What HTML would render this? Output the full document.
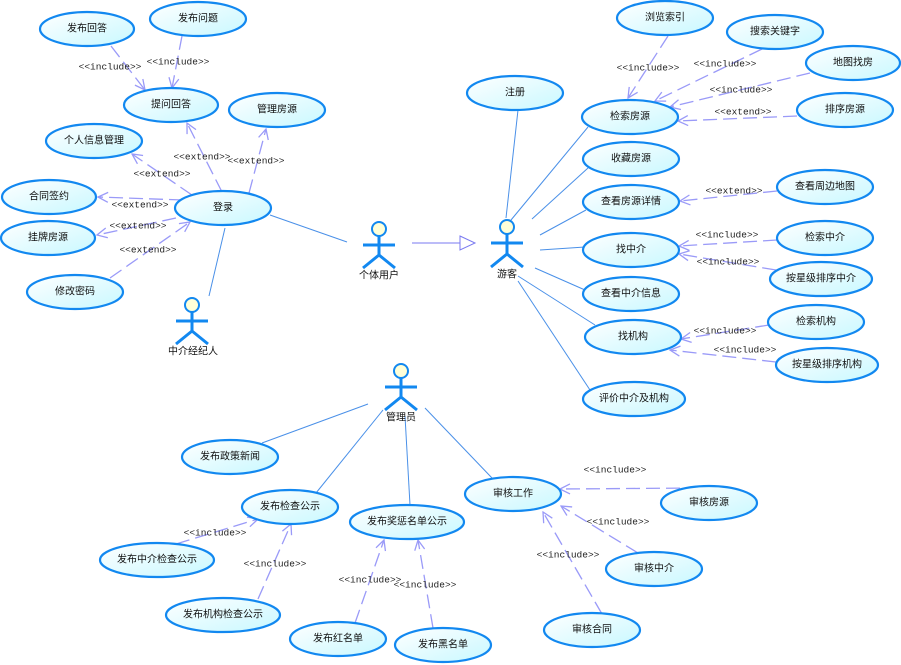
<!DOCTYPE html>
<html><head><meta charset="utf-8"><style>
html,body{margin:0;padding:0;background:#fff;width:901px;height:665px;overflow:hidden}
svg{display:block}
.e{fill:url(#g);stroke:#1288f0;stroke-width:2.2}
.t{font-family:"Liberation Sans","Noto Sans CJK SC",sans-serif;font-size:10px;fill:#111;text-anchor:middle;dominant-baseline:central}
.s{stroke:#4a90e8;stroke-width:1;fill:none}
.d{stroke:#9a9af8;stroke-width:1.3;fill:none;stroke-dasharray:14 6}
.l{font-family:"Liberation Mono",monospace;font-size:9.5px;fill:#222;text-anchor:middle;dominant-baseline:central}
.a{stroke:#1288f0;stroke-width:3;fill:none}
</style></head><body>
<svg width="901" height="665" xmlns="http://www.w3.org/2000/svg">
<defs>
<linearGradient id="g" x1="0" y1="0" x2="1" y2="1"><stop offset="0" stop-color="#ffffff"/><stop offset="1" stop-color="#c8f8ff"/></linearGradient>
<marker id="m" markerWidth="12" markerHeight="12" refX="11" refY="6" orient="auto" markerUnits="userSpaceOnUse"><path d="M1,1 L11,6 L1,11" fill="none" stroke="#9a9af8" stroke-width="1.3"/></marker>
</defs>
<g class="s">
<line x1="270" y1="215" x2="347" y2="242"/>
<line x1="209" y1="296" x2="225" y2="228"/>
<line x1="518" y1="110" x2="506" y2="218"/>
<line x1="588" y1="127" x2="511" y2="220"/>
<line x1="588" y1="168" x2="532" y2="219"/>
<line x1="586" y1="210" x2="540" y2="235"/>
<line x1="585" y1="247" x2="540" y2="250"/>
<line x1="585" y1="290" x2="535" y2="268"/>
<line x1="595" y1="325" x2="518" y2="276"/>
<line x1="590" y1="390" x2="518" y2="281"/>
<line x1="368" y1="404" x2="262" y2="443"/>
<line x1="383" y1="410" x2="316" y2="493"/>
<line x1="405" y1="416" x2="410" y2="505"/>
<line x1="425" y1="408" x2="492" y2="478"/>
<line x1="412" y1="243" x2="460" y2="243" stroke="#7a7af0"/>
</g>
<path d="M460,236 L475,243 L460,250 Z" fill="#fff" stroke="#7a7af0"/>
<g class="d" marker-end="url(#m)">
<line x1="111" y1="46" x2="145" y2="90"/>
<line x1="182" y1="36" x2="172" y2="88"/>
<line x1="222" y1="192" x2="187" y2="123"/>
<line x1="249" y1="193" x2="266" y2="129"/>
<line x1="192" y1="195" x2="132" y2="154"/>
<line x1="183" y1="200" x2="98" y2="197"/>
<line x1="176" y1="218" x2="97" y2="235"/>
<line x1="110" y1="278" x2="190" y2="222"/>
<line x1="668" y1="36" x2="628" y2="98"/>
<line x1="762" y1="49" x2="655" y2="101"/>
<line x1="810" y1="73" x2="670" y2="107"/>
<line x1="797" y1="116" x2="678" y2="121"/>
<line x1="777" y1="191" x2="680" y2="201"/>
<line x1="777" y1="240" x2="679" y2="246"/>
<line x1="776" y1="270" x2="679" y2="254"/>
<line x1="769" y1="325" x2="681" y2="339"/>
<line x1="776" y1="362" x2="670" y2="350"/>
<line x1="700" y1="488" x2="560" y2="489"/>
<line x1="638" y1="553" x2="561" y2="506"/>
<line x1="602" y1="614" x2="543" y2="512"/>
<line x1="176" y1="544" x2="258" y2="519"/>
<line x1="258" y1="599" x2="291" y2="524"/>
<line x1="355" y1="623" x2="384" y2="540"/>
<line x1="433" y1="628" x2="418" y2="540"/>
</g>
<g class="l">
<text x="110" y="67">&lt;&lt;include&gt;&gt;</text>
<text x="178" y="62">&lt;&lt;include&gt;&gt;</text>
<text x="202" y="157">&lt;&lt;extend&gt;&gt;</text>
<text x="256" y="161">&lt;&lt;extend&gt;&gt;</text>
<text x="162" y="174">&lt;&lt;extend&gt;&gt;</text>
<text x="140" y="205">&lt;&lt;extend&gt;&gt;</text>
<text x="138" y="226">&lt;&lt;extend&gt;&gt;</text>
<text x="148" y="250">&lt;&lt;extend&gt;&gt;</text>
<text x="648" y="68">&lt;&lt;include&gt;&gt;</text>
<text x="725" y="64">&lt;&lt;include&gt;&gt;</text>
<text x="741" y="90">&lt;&lt;include&gt;&gt;</text>
<text x="743" y="112">&lt;&lt;extend&gt;&gt;</text>
<text x="734" y="191">&lt;&lt;extend&gt;&gt;</text>
<text x="727" y="235">&lt;&lt;include&gt;&gt;</text>
<text x="728" y="262">&lt;&lt;include&gt;&gt;</text>
<text x="725" y="331">&lt;&lt;include&gt;&gt;</text>
<text x="745" y="350">&lt;&lt;include&gt;&gt;</text>
<text x="615" y="470">&lt;&lt;include&gt;&gt;</text>
<text x="618" y="522">&lt;&lt;include&gt;&gt;</text>
<text x="568" y="555">&lt;&lt;include&gt;&gt;</text>
<text x="215" y="533">&lt;&lt;include&gt;&gt;</text>
<text x="275" y="564">&lt;&lt;include&gt;&gt;</text>
<text x="370" y="580">&lt;&lt;include&gt;&gt;</text>
<text x="425" y="585">&lt;&lt;include&gt;&gt;</text>
</g>
<g>
<ellipse class="e" cx="87" cy="29" rx="47" ry="17"/><text class="t" x="87" y="29">发布回答</text>
<ellipse class="e" cx="198" cy="19" rx="48" ry="17"/><text class="t" x="198" y="19">发布问题</text>
<ellipse class="e" cx="171" cy="105" rx="47" ry="17"/><text class="t" x="171" y="105">提问回答</text>
<ellipse class="e" cx="277" cy="110" rx="48" ry="17"/><text class="t" x="277" y="110">管理房源</text>
<ellipse class="e" cx="94" cy="141" rx="48" ry="17"/><text class="t" x="94" y="141">个人信息管理</text>
<ellipse class="e" cx="49" cy="197" rx="47" ry="17"/><text class="t" x="49" y="197">合同签约</text>
<ellipse class="e" cx="48" cy="238" rx="47" ry="17"/><text class="t" x="48" y="238">挂牌房源</text>
<ellipse class="e" cx="75" cy="292" rx="48" ry="17"/><text class="t" x="75" y="292">修改密码</text>
<ellipse class="e" cx="223" cy="208" rx="48" ry="17"/><text class="t" x="223" y="208">登录</text>
<ellipse class="e" cx="665" cy="18" rx="48" ry="17"/><text class="t" x="665" y="18">浏览索引</text>
<ellipse class="e" cx="775" cy="32" rx="48" ry="17"/><text class="t" x="775" y="32">搜索关键字</text>
<ellipse class="e" cx="853" cy="63" rx="47" ry="17"/><text class="t" x="853" y="63">地图找房</text>
<ellipse class="e" cx="845" cy="110" rx="48" ry="17"/><text class="t" x="845" y="110">排序房源</text>
<ellipse class="e" cx="515" cy="93" rx="48" ry="17"/><text class="t" x="515" y="93">注册</text>
<ellipse class="e" cx="630" cy="117" rx="48" ry="17"/><text class="t" x="630" y="117">检索房源</text>
<ellipse class="e" cx="631" cy="159" rx="48" ry="17"/><text class="t" x="631" y="159">收藏房源</text>
<ellipse class="e" cx="631" cy="202" rx="48" ry="17"/><text class="t" x="631" y="202">查看房源详情</text>
<ellipse class="e" cx="825" cy="187" rx="48" ry="17"/><text class="t" x="825" y="187">查看周边地图</text>
<ellipse class="e" cx="631" cy="250" rx="48" ry="17"/><text class="t" x="631" y="250">找中介</text>
<ellipse class="e" cx="825" cy="238" rx="48" ry="17"/><text class="t" x="825" y="238">检索中介</text>
<ellipse class="e" cx="821" cy="279" rx="51" ry="17"/><text class="t" x="821" y="279">按星级排序中介</text>
<ellipse class="e" cx="631" cy="294" rx="48" ry="17"/><text class="t" x="631" y="294">查看中介信息</text>
<ellipse class="e" cx="633" cy="337" rx="48" ry="17"/><text class="t" x="633" y="337">找机构</text>
<ellipse class="e" cx="816" cy="322" rx="48" ry="17"/><text class="t" x="816" y="322">检索机构</text>
<ellipse class="e" cx="827" cy="365" rx="51" ry="17"/><text class="t" x="827" y="365">按星级排序机构</text>
<ellipse class="e" cx="634" cy="399" rx="51" ry="17"/><text class="t" x="634" y="399">评价中介及机构</text>
<ellipse class="e" cx="230" cy="457" rx="48" ry="17"/><text class="t" x="230" y="457">发布政策新闻</text>
<ellipse class="e" cx="290" cy="507" rx="48" ry="17"/><text class="t" x="290" y="507">发布检查公示</text>
<ellipse class="e" cx="407" cy="522" rx="57" ry="17"/><text class="t" x="407" y="522">发布奖惩名单公示</text>
<ellipse class="e" cx="513" cy="494" rx="48" ry="17"/><text class="t" x="513" y="494">审核工作</text>
<ellipse class="e" cx="709" cy="503" rx="48" ry="17"/><text class="t" x="709" y="503">审核房源</text>
<ellipse class="e" cx="654" cy="569" rx="48" ry="17"/><text class="t" x="654" y="569">审核中介</text>
<ellipse class="e" cx="592" cy="630" rx="48" ry="17"/><text class="t" x="592" y="630">审核合同</text>
<ellipse class="e" cx="157" cy="560" rx="57" ry="17"/><text class="t" x="157" y="560">发布中介检查公示</text>
<ellipse class="e" cx="223" cy="615" rx="57" ry="17"/><text class="t" x="223" y="615">发布机构检查公示</text>
<ellipse class="e" cx="338" cy="639" rx="48" ry="17"/><text class="t" x="338" y="639">发布红名单</text>
<ellipse class="e" cx="443" cy="645" rx="48" ry="17"/><text class="t" x="443" y="645">发布黑名单</text>
</g>
<g>
<circle cx="379" cy="229" r="7" fill="#ffffd8" stroke="#1288f0" stroke-width="2"/>
<path class="a" d="M379,236 V255 M363,245 H395 M363,268 L379,255 L395,268"/>
<text class="t" x="379" y="276">个体用户</text>
<circle cx="192" cy="305" r="7" fill="#ffffd8" stroke="#1288f0" stroke-width="2"/>
<path class="a" d="M192,312 V331 M176,321 H208 M176,344 L192,331 L208,344"/>
<text class="t" x="193" y="352">中介经纪人</text>
<circle cx="507" cy="227" r="7" fill="#ffffd8" stroke="#1288f0" stroke-width="2"/>
<path class="a" d="M507,234 V254 M491,243 H523 M491,267 L507,254 L523,267"/>
<text class="t" x="507" y="275">游客</text>
<circle cx="401" cy="371" r="7" fill="#ffffd8" stroke="#1288f0" stroke-width="2"/>
<path class="a" d="M401,378 V397 M385,387 H417 M385,410 L401,397 L417,410"/>
<text class="t" x="401" y="418">管理员</text>
</g>
</svg>
</body></html>
